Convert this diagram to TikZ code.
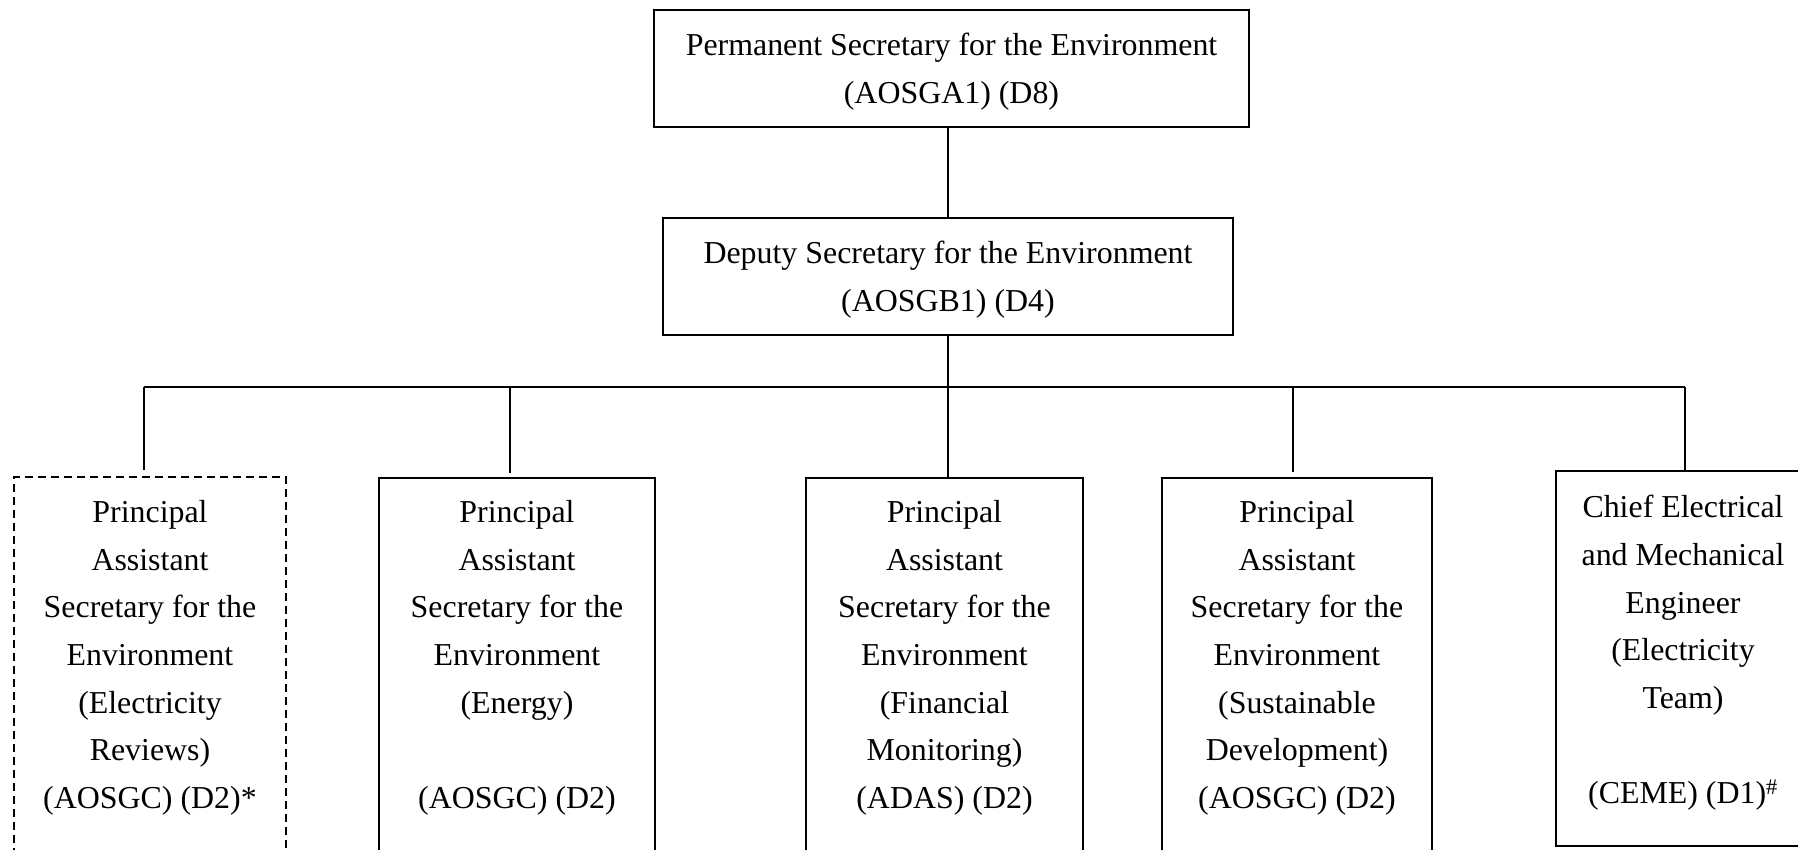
\documentclass[tikz,border=0pt]{standalone}
\usepackage{fontspec}
\setmainfont{Liberation Serif}
\begin{document}
\begin{tikzpicture}[x=1pt,y=-1pt,
  box/.style={draw=black,line width=1.8pt,rectangle,inner sep=0pt,anchor=north},
  dbox/.style={box,dash pattern=on 8pt off 5pt,line width=1.6pt},
  lbl/.style={font=\fontsize{31.9}{47.7}\selectfont,align=center,inner sep=0pt,anchor=north},
  conn/.style={draw=black,line width=2pt}]
\useasboundingbox (0,0) rectangle (1798,850);
\fill[white] (0,0) rectangle (1798,850);
\clip (0,0) rectangle (1798,850);
% top boxes
\node[box,minimum width=595pt,minimum height=117pt] (ps) at (951.5,9) {};
\node[lbl] (pst) at (951.5,33) {Permanent Secretary for the Environment\\(AOSGA1) (D8)};
\node[box,minimum width=570pt,minimum height=117pt] (ds) at (948,217) {};
\node[lbl] (dst) at (948,241) {Deputy Secretary for the Environment\\(AOSGB1) (D4)};
% bottom boxes
\node[dbox,minimum width=272pt,minimum height=424pt] (b1) at (150,476) {};
\node[lbl] (b1t) at (150,500) {Principal\\Assistant\\Secretary for the\\Environment\\(Electricity\\Reviews)\\(AOSGC) (D2)*};
\node[box,minimum width=276pt,minimum height=424pt] (b2) at (517,477) {};
\node[lbl] (b2t) at (517,500) {Principal\\Assistant\\Secretary for the\\Environment\\(Energy)\\[47.7pt](AOSGC) (D2)};
\node[box,minimum width=277pt,minimum height=424pt] (b3) at (944.5,477) {};
\node[lbl] (b3t) at (944.5,500) {Principal\\Assistant\\Secretary for the\\Environment\\(Financial\\Monitoring)\\(ADAS) (D2)};
\node[box,minimum width=270pt,minimum height=424pt] (b4) at (1297,477) {};
\node[lbl] (b4t) at (1297,500) {Principal\\Assistant\\Secretary for the\\Environment\\(Sustainable\\Development)\\(AOSGC) (D2)};
\node[box,minimum width=254pt,minimum height=375pt] (b5) at (1683,470) {};
\node[lbl] (b5t) at (1683,495) {Chief Electrical\\and Mechanical\\Engineer\\(Electricity\\Team)\\[47.7pt](CEME) (D1)\textsuperscript{\#}};
% bus coordinates
\coordinate (c1) at (144,387);
\coordinate (c2) at (510,387);
\coordinate (c3) at (948,387);
\coordinate (c4) at (1293,387);
\coordinate (c5) at (1685,387);
% connectors
\draw[conn] (ds.north) -- (ds.north |- ps.south);
\draw[conn] (ds.south) -- (c3);
\draw[conn] (c1) -- (c5);
\draw[conn,shorten >=6pt] (c1) -- (c1 |- b1.north);
\draw[conn,shorten >=4pt] (c2) -- (c2 |- b2.north);
\draw[conn] (c3) -- (c3 |- b3.north);
\draw[conn,shorten >=5pt] (c4) -- (c4 |- b4.north);
\draw[conn] (c5) -- (c5 |- b5.north);
\end{tikzpicture}
\end{document}
